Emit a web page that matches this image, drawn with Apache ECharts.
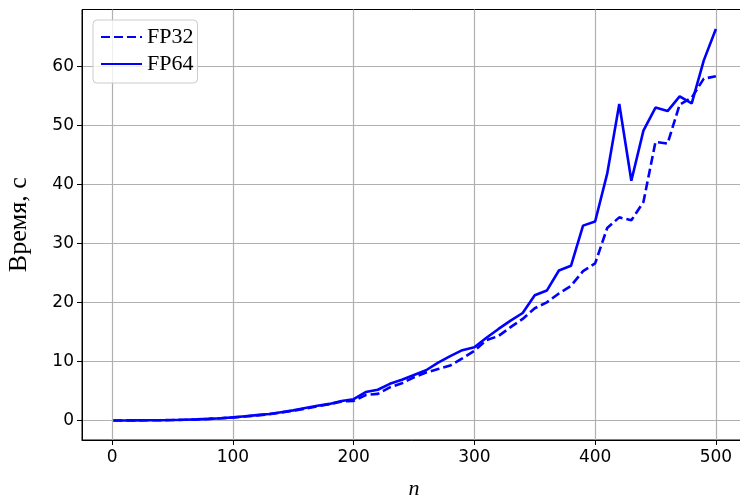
<!DOCTYPE html>
<html>
<head>
<meta charset="utf-8">
<script src="https://cdn.jsdelivr.net/npm/echarts@6/dist/echarts.min.js"></script>
<style>
html,body{margin:0;padding:0;background:#fff;}
#chart{width:740px;height:496px;}
</style>
</head>
<body>
<div id="chart"></div>
<script>
const nVals = [1,10,20,30,40,50,60,70,80,90,100,110,120,130,140,150,160,170,180,190,200,210,220,230,240,250,260,270,280,290,300,310,320,330,340,350,360,370,380,390,400,410,420,430,440,450,460,470,480,490,500];
const fp32 = [0,0,0.01,0.02,0.04,0.07,0.11,0.17,0.26,0.37,0.5,0.66,0.85,1.05,1.35,1.65,2.0,2.4,2.75,3.2,3.3,4.3,4.5,5.6,6.3,7.3,8.1,8.7,9.3,10.5,11.8,13.6,14.3,15.8,17.2,19.0,20.0,21.5,22.8,25.3,26.6,32.6,34.4,33.9,37.0,47.2,46.9,53.5,54.7,57.9,58.3];
const fp64 = [0,0,0.01,0.02,0.04,0.07,0.12,0.18,0.27,0.38,0.52,0.7,0.9,1.1,1.4,1.7,2.1,2.5,2.8,3.3,3.6,4.8,5.2,6.2,6.9,7.7,8.5,9.8,10.9,11.9,12.4,14.0,15.5,16.9,18.2,21.2,22.0,25.4,26.2,33.0,33.7,41.8,53.6,40.6,49.1,53.0,52.4,54.9,53.7,61.0,66.3];
const xTicks = [0,100,200,300,400,500];
const yTicks = [0,10,20,30,40,50,60];
const seriesNames = ['FP32','FP64'];

const xMin = -24.95, xMax = 524.95;
const yMin = -3.315, yMax = 69.615;

const chart = echarts.init(document.getElementById('chart'), null, {renderer:'canvas'});
const tickFont = {fontFamily:'DejaVu Sans', fontSize:17, color:'#000'};
chart.setOption({
  animation:false,
  backgroundColor:'#fff',
  grid:{left:82, top:9.5, width:664, height:430.5, show:true, borderColor:'#000', borderWidth:1, backgroundColor:'transparent', containLabel:false, outerBoundsMode:'none'},
  legend:{
    left:93, top:20, orient:'vertical',
    padding:[6,4,8,7],
    backgroundColor:'rgba(255,255,255,0.8)',
    borderColor:'#cccccc', borderWidth:1, borderRadius:4,
    itemWidth:41, itemHeight:14, itemGap:5,
    itemStyle:{color:'rgba(0,0,0,0)', borderWidth:0, opacity:0},
    textStyle:{fontFamily:'Liberation Serif', fontSize:22, color:'#000', lineHeight:22},
    data:seriesNames
  },
  xAxis:{
    type:'value', min:xMin, max:xMax,
    name:'n', nameLocation:'middle', nameGap:38,
    nameTextStyle:{fontFamily:'Liberation Serif', fontStyle:'italic', fontSize:22, color:'#000'},
    axisLine:{show:true, onZero:false, lineStyle:{color:'#000', width:1}},
    axisTick:{show:true, length:5, lineStyle:{color:'#000', width:1}, customValues:xTicks},
    axisLabel:{show:true, margin:9, customValues:xTicks, ...tickFont},
    splitLine:{show:true, lineStyle:{color:'#b0b0b0', width:1.2}}
  },
  yAxis:{
    type:'value', min:yMin, max:yMax,
    name:'Время, с', nameLocation:'middle', nameGap:50, nameRotate:90,
    nameTextStyle:{fontFamily:'Liberation Serif', fontSize:26, color:'#000'},
    axisLine:{show:true, onZero:false, lineStyle:{color:'#000', width:1}},
    axisTick:{show:true, length:5, lineStyle:{color:'#000', width:1}, customValues:yTicks},
    axisLabel:{show:true, margin:8, customValues:yTicks, ...tickFont},
    splitLine:{show:true, lineStyle:{color:'#b0b0b0', width:1.2}}
  },
  series:[
    {name:seriesNames[0], type:'line', symbol:'none', data:nVals.map((n,i)=>[n,fp32[i]]),
     lineStyle:{color:'#0000ff', width:2.6, type:[9,4]}, itemStyle:{color:'#0000ff'}, z:3},
    {name:seriesNames[1], type:'line', symbol:'none', data:nVals.map((n,i)=>[n,fp64[i]]),
     lineStyle:{color:'#0000ff', width:2.6, type:'solid'}, itemStyle:{color:'#0000ff'}, z:3}
  ]
});
</script>
</body>
</html>
